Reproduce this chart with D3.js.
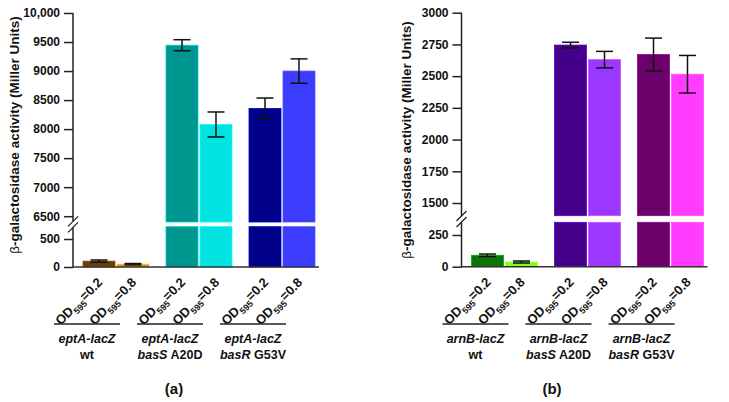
<!DOCTYPE html>
<html>
<head>
<meta charset="utf-8">
<style>
  body { margin: 0; background: #fff; }
  svg text { font-family: "Liberation Sans", Arial, sans-serif; font-weight: bold; fill: #111; }
</style>
</head>
<body>
<script src="https://d3js.org/d3.v7.min.js"></script>
<script>

// ---- data ----
var odLevels = ["0.2", "0.8"];
var strainRows = [["wt"], ["basS", " A20D"], ["basR", " G53V"]];

var eptaGene = "eptA-lacZ";
var eptaMeans = [105, 50, 9445, 8080, 8355, 9000];
var eptaErrors = [20, 12, 95, 215, 180, 210];
var eptaColors = ["#6e3b0b", "#f08a1c", "#009690", "#00e3e0", "#00008a", "#3c3cff"];
var eptaTicksUpper = [6500, 7000, 7500, 8000, 8500, 9000, 9500, 10000];
var eptaTicksLower = [0, 500];

var arnbGene = "arnB-lacZ";
var arnbMeans = [90, 37, 2745, 2630, 2670, 2515];
var arnbErrors = [10, 8, 22, 65, 130, 148];
var arnbColors = ["#0a760a", "#7cff1e", "#44008a", "#9b38ff", "#6c006a", "#ff3cff"];
var arnbTicksUpper = [1500, 1750, 2000, 2250, 2500, 2750, 3000];
var arnbTicksLower = [0, 250];

var svg = d3.select("body").append("svg")
    .attr("width", 729)
    .attr("height", 402);

function drawPanel(cfg) {
    var g = svg.append("g");
    var groups = strainRows.map(function(d, i) { return i; });

    // two y scales, one above the break and one below
    var yUp = d3.scaleLinear().domain(cfg.upDomain).range([cfg.upBottom, cfg.top]);
    var yLo = d3.scaleLinear().domain(cfg.loDomain).range([cfg.base, cfg.loTop]);

    var xGroup = d3.scaleBand().domain(groups)
        .range([cfg.axisX + 1.5, cfg.axisX + 1.5 + cfg.plotW])
        .paddingInner(0.205).paddingOuter(0.1025);
    var xBar = d3.scaleBand().domain(odLevels)
        .range([0, xGroup.bandwidth()])
        .paddingInner(0.0588);

    var bars = cfg.means.map(function(m, i) {
        return {
            group: Math.floor(i / 2),
            od: odLevels[i % 2],
            mean: m,
            err: cfg.errors[i],
            color: cfg.colors[i]
        };
    });
    function bx(d) { return xGroup(d.group) + xBar(d.od); }
    function yv(v) { return v > cfg.loDomain[1] ? yUp(v) : yLo(v); }

    // bars (lower piece + upper piece when broken)
    bars.forEach(function(d) {
        var stroke = d3.color(d.color).brighter(0.9).formatHex();
        var loTopV = Math.min(d.mean, cfg.loDomain[1]);
        g.append("rect")
            .attr("x", bx(d)).attr("width", xBar.bandwidth())
            .attr("y", yLo(loTopV)).attr("height", yLo(0) - yLo(loTopV))
            .attr("fill", d.color).attr("stroke", stroke).attr("stroke-width", 0.8);
        if (d.mean > cfg.loDomain[1]) {
            g.append("rect")
                .attr("x", bx(d)).attr("width", xBar.bandwidth())
                .attr("y", yUp(d.mean)).attr("height", yUp(cfg.upDomain[0]) - yUp(d.mean))
                .attr("fill", d.color).attr("stroke", stroke).attr("stroke-width", 0.8);
        }
    });

    // error bars
    bars.forEach(function(d) {
        var cx = bx(d) + xBar.bandwidth() / 2;
        var y1 = yv(d.mean + d.err), y0 = yv(d.mean - d.err);
        g.append("line").attr("x1", cx).attr("x2", cx).attr("y1", y1).attr("y2", y0)
            .attr("stroke", "#111").attr("stroke-width", 1.5);
        [y1, y0].forEach(function(yy) {
            g.append("line").attr("x1", cx - 8.5).attr("x2", cx + 8.5).attr("y1", yy).attr("y2", yy)
                .attr("stroke", "#111").attr("stroke-width", 1.5);
        });
    });

    // y axes (domain line drawn by hand so the break stays open)
    var fmt = function(d) { return d >= 10000 ? d3.format(",")(d) : d; };
    [[yUp, cfg.ticksUpper], [yLo, cfg.ticksLower]].forEach(function(p) {
        var ax = g.append("g")
            .attr("transform", "translate(" + cfg.axisX + ",0)")
            .call(d3.axisLeft(p[0]).tickValues(p[1]).tickSize(9).tickPadding(4).tickFormat(fmt));
        ax.select(".domain").remove();
        ax.selectAll("line").attr("stroke", "#222").attr("stroke-width", 1.5);
        ax.selectAll("text").style("font-size", "12px").attr("fill", "#111");
    });
    var mid = (cfg.upBottom + cfg.loTop) / 2;
    g.append("line").attr("x1", cfg.axisX).attr("x2", cfg.axisX)
        .attr("y1", cfg.top).attr("y2", mid - 3)
        .attr("stroke", "#222").attr("stroke-width", 1.5);
    g.append("line").attr("x1", cfg.axisX).attr("x2", cfg.axisX)
        .attr("y1", mid + 3).attr("y2", cfg.base + 0.75)
        .attr("stroke", "#222").attr("stroke-width", 1.5);
    [-3, 3].forEach(function(o) {
        g.append("line")
            .attr("x1", cfg.axisX - 5).attr("y1", mid + o + 5)
            .attr("x2", cfg.axisX + 5).attr("y2", mid + o - 5)
            .attr("stroke", "#222").attr("stroke-width", 1.3);
    });

    // x baseline
    var lastBar = bars[bars.length - 1];
    g.append("line").attr("x1", cfg.axisX).attr("x2", bx(lastBar) + xBar.bandwidth() + 4)
        .attr("y1", cfg.base).attr("y2", cfg.base)
        .attr("stroke", "#333").attr("stroke-width", 1.5);

    // y title
    var title = g.append("text")
        .attr("transform", "translate(" + cfg.titleX + "," + cfg.titleY + ") rotate(-90)")
        .attr("text-anchor", "middle")
        .style("font-size", "13.5px");
    title.append("tspan").style("font-weight", "normal").text("β");
    title.append("tspan").text("-galactosidase activity (Miller Units)");

    // rotated OD labels
    bars.forEach(function(d) {
        var cx = bx(d) + xBar.bandwidth() / 2;
        var t = g.append("text")
            .attr("transform", "translate(" + (cx + 1) + "," + (cfg.base + 13) + ") rotate(-45)")
            .attr("text-anchor", "end")
            .attr("dy", "0.35em")
            .style("font-size", "13px");
        t.append("tspan").text("OD");
        t.append("tspan").attr("dy", 4).style("font-size", "9px").text("595");
        t.append("tspan").attr("dy", -4).text("=" + d.od);
    });

    // group brackets and strain labels
    groups.forEach(function(gi) {
        var x0 = xGroup(gi) - 29, x1 = xGroup(gi) + xGroup.bandwidth() - 29;
        var xc = (x0 + x1) / 2;
        g.append("line").attr("x1", x0).attr("x2", x1).attr("y1", 324).attr("y2", 324)
            .attr("stroke", "#222").attr("stroke-width", 1.5);
        g.append("text").attr("x", xc).attr("y", 343).attr("text-anchor", "middle")
            .style("font-size", "12.5px").style("font-style", "italic").text(cfg.gene);
        var row = strainRows[gi];
        var t2 = g.append("text").attr("x", xc).attr("y", 359).attr("text-anchor", "middle")
            .style("font-size", "12.5px");
        if (row.length === 1) {
            t2.text(row[0]);
        } else {
            t2.append("tspan").style("font-style", "italic").text(row[0]);
            t2.append("tspan").text(row[1]);
        }
    });

    // panel letter
    g.append("text").attr("x", cfg.letterX).attr("y", 394).attr("text-anchor", "middle")
        .style("font-size", "15px").text(cfg.letter);
}

drawPanel({
    means: eptaMeans, errors: eptaErrors, colors: eptaColors, gene: eptaGene,
    ticksUpper: eptaTicksUpper, ticksLower: eptaTicksLower,
    upDomain: [6400, 10000], loDomain: [0, 720],
    top: 13, upBottom: 222, loTop: 226.7, base: 267,
    axisX: 73, plotW: 249,
    titleX: 19, titleY: 135, letter: "(a)", letterX: 174
});

drawPanel({
    means: arnbMeans, errors: arnbErrors, colors: arnbColors, gene: arnbGene,
    ticksUpper: arnbTicksUpper, ticksLower: arnbTicksLower,
    upDomain: [1400, 3000], loDomain: [0, 350],
    top: 12.7, upBottom: 215.7, loTop: 222.3, base: 266.7,
    axisX: 461.5, plotW: 249,
    titleX: 411, titleY: 140, letter: "(b)", letterX: 552
});

</script>
</body>
</html>
